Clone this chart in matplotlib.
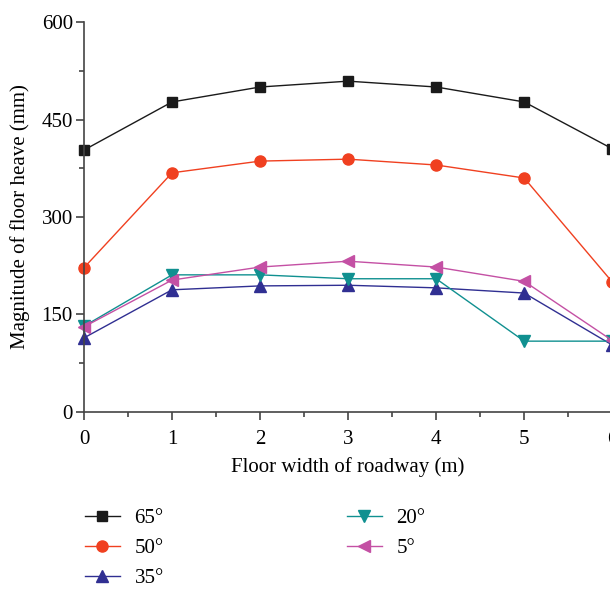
import matplotlib
matplotlib.use("Agg")
import matplotlib.pyplot as plt
from matplotlib.ticker import MultipleLocator

plt.rcParams['font.family'] = ['Liberation Serif', 'DejaVu Serif']

x = [0, 1, 2, 3, 4, 5, 6]
s65 = [403, 477, 500, 509, 500, 477, 405]
s50 = [222, 368, 386, 389, 380, 360, 200]
s35 = [114, 188, 194, 195, 191, 183, 103]
s20 = [132, 211, 211, 205, 205, 109, 109]
s5 = [131, 203, 223, 232, 223, 201, 110]
labels = ['65°', '50°', '35°', '20°', '5°']

fig = plt.figure(figsize=(6.1, 5.9), dpi=100)
ax = fig.add_axes([0.1377, 0.3017, 0.866, 0.661])

ms = 8
ax.plot(x, s65, color='#1a1a1a', marker='s', ms=ms-1, lw=1, label=labels[0], clip_on=False)
ax.plot(x, s50, color='#f04020', marker='o', ms=ms, lw=1, label=labels[1], clip_on=False)
ax.plot(x, s35, color='#302f92', marker='^', ms=ms, lw=1, label=labels[2], clip_on=False)
ax.plot(x, s20, color='#109090', marker='v', ms=ms, lw=1, label=labels[3], clip_on=False)
ax.plot(x, s5, color='#c450a4', marker='<', ms=ms, lw=1, label=labels[4], clip_on=False)

ax.set_xlim(0, 6)
ax.set_ylim(0, 600)
ax.xaxis.set_major_locator(MultipleLocator(1))
ax.xaxis.set_minor_locator(MultipleLocator(0.5))
ax.yaxis.set_major_locator(MultipleLocator(150))
ax.yaxis.set_minor_locator(MultipleLocator(75))
for s in ['top', 'right']:
    ax.spines[s].set_visible(False)
for s in ['left', 'bottom']:
    ax.spines[s].set_color('#444444')
    ax.spines[s].set_linewidth(1.2)
ax.tick_params(which='major', direction='out', length=6, width=1.2, color='#444444', labelsize=15)
ax.tick_params(which='minor', direction='out', length=3.5, width=1.2, color='#444444')
ax.tick_params(axis='x', which='major', pad=7)
ax.tick_params(axis='y', which='major', pad=2)
ax.set_xlabel('Floor width of roadway (m)', fontsize=15, labelpad=6)
ax.set_ylabel('Magnitude of floor heave (mm)', fontsize=15, labelpad=8)

handles, labs = ax.get_legend_handles_labels()
fig.legend(handles, labs, ncol=2, loc='upper left', bbox_to_anchor=(0.126, 0.152),
           frameon=False, fontsize=15, handlelength=1.65, columnspacing=8.8,
           labelspacing=0.5, handletextpad=0.72, borderaxespad=0)

fig.savefig('out.png', dpi=100)
